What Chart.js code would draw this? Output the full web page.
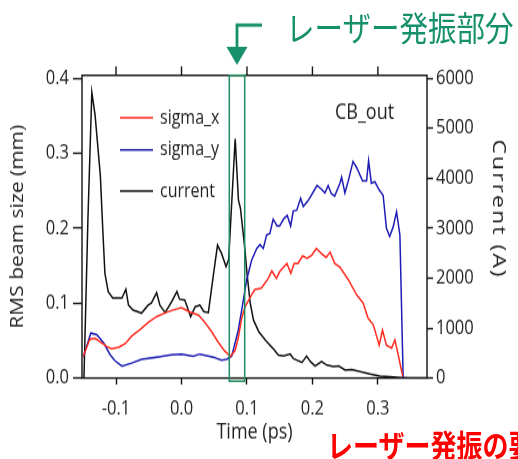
<!DOCTYPE html>
<html><head><meta charset="utf-8">
<script src="https://cdn.jsdelivr.net/npm/chart.js@4.4.1/dist/chart.umd.min.js"></script>
<style>
html,body{margin:0;padding:0;width:518px;height:459px;overflow:hidden;background:#fff;}
#stage{position:absolute;left:0;top:0;width:518px;height:382px;transform:scale(1,1.2016);transform-origin:0 0;overflow:hidden;}
#c{position:absolute;left:0;top:0;}
.jp{position:absolute;white-space:nowrap;font-family:"Noto Sans CJK JP",sans-serif;line-height:1;}
#g{left:286px;top:8px;font-size:28.5px;color:#15906a;}
#r{left:327px;top:356px;font-size:26px;color:#ff0000;font-weight:bold;}
</style></head>
<body>
<div id="stage">
<canvas id="c" width="518" height="382"></canvas>
<div class="jp" id="g">レーザー発振部分</div>
<div class="jp" id="r">レーザー発振の要</div>
</div>
<script>
// ---- data ----
const sigmaXTime = [-0.150,-0.140,-0.132,-0.124,-0.114,-0.107,-0.096,-0.086,-0.076,-0.063,-0.051,-0.038,-0.025,-0.0125,0.000,0.013,0.026,0.036,0.046,0.056,0.066,0.075,0.082,0.087,0.092,0.097,0.107,0.112,0.122,0.1325,0.138,0.145,0.150,0.161,0.167,0.172,0.178,0.185,0.192,0.199,0.206,0.214,0.221,0.227,0.234,0.242,0.255,0.2675,0.2775,0.285,0.293,0.302,0.307,0.313,0.321,0.326,0.331,0.338];
const sigmaX     = [0.029,0.052,0.053,0.048,0.042,0.039,0.041,0.046,0.056,0.065,0.074,0.082,0.087,0.091,0.094,0.088,0.084,0.074,0.062,0.048,0.036,0.029,0.037,0.055,0.080,0.095,0.111,0.118,0.120,0.133,0.143,0.133,0.142,0.153,0.140,0.153,0.153,0.163,0.160,0.164,0.173,0.166,0.161,0.168,0.153,0.148,0.131,0.111,0.100,0.080,0.071,0.044,0.064,0.044,0.040,0.051,0.031,0.002];

const sigmaYTime = [-0.150,-0.1386,-0.1295,-0.119,-0.109,-0.1015,-0.091,-0.076,-0.061,-0.038,-0.015,0.000,0.018,0.028,0.0485,0.061,0.069,0.0766,0.079,0.0867,0.092,0.0995,0.107,0.115,0.120,0.125,0.130,0.135,0.140,0.146,0.150,0.1565,0.1615,0.1667,0.1707,0.176,0.182,0.186,0.1936,0.201,0.207,0.214,0.219,0.224,0.229,0.234,0.242,0.2446,0.2496,0.2547,0.262,0.268,0.2766,0.2827,0.2858,0.290,0.2954,0.302,0.308,0.313,0.318,0.3234,0.3285,0.3336,0.3386];
const sigmaY     = [0.028,0.060,0.058,0.047,0.031,0.023,0.016,0.020,0.025,0.028,0.031,0.032,0.029,0.032,0.028,0.024,0.025,0.029,0.037,0.064,0.091,0.131,0.157,0.173,0.178,0.173,0.191,0.193,0.212,0.203,0.203,0.213,0.217,0.203,0.223,0.224,0.240,0.229,0.237,0.248,0.257,0.252,0.247,0.257,0.246,0.243,0.260,0.268,0.247,0.263,0.289,0.280,0.263,0.263,0.290,0.260,0.262,0.251,0.244,0.200,0.189,0.202,0.222,0.191,0.000];

const currentTime = [-0.149,-0.143,-0.137,-0.132,-0.124,-0.120,-0.117,-0.112,-0.105,-0.091,-0.085,-0.081,-0.074,-0.061,-0.051,-0.046,-0.038,-0.033,-0.025,-0.015,-0.007,-0.003,0.005,0.014,0.021,0.028,0.034,0.041,0.049,0.055,0.061,0.068,0.072,0.082,0.087,0.090,0.097,0.100,0.105,0.110,0.118,0.128,0.140,0.148,0.156,0.166,0.171,0.184,0.191,0.197,0.204,0.214,0.222,0.232,0.240,0.250,0.260,0.273,0.288,0.303,0.318,0.334,0.350,0.375];
const current     = [0,3160,5720,5260,4060,2900,2100,1730,1600,1600,1780,1460,1360,1300,1460,1500,1710,1460,1310,1530,1730,1580,1560,1230,1430,1460,1330,1310,2090,2660,2500,2230,2370,4790,3560,3400,2560,2100,1500,1160,930,760,590,460,440,480,390,310,440,330,240,330,260,230,240,160,170,130,80,40,25,10,0,0];

const xTicks  = [-0.1, 0.0, 0.1, 0.2, 0.3];
const yTicks  = [0.0, 0.1, 0.2, 0.3, 0.4];
const y1Ticks = [0, 1000, 2000, 3000, 4000, 5000, 6000];
const laserBand = [0.073, 0.0965];
const seriesNames = ['sigma_x', 'sigma_y', 'current'];

// ---- drawing ----
const FONT = "'Open Sans', 'DejaVu Sans', sans-serif";
const TXT = '#222';
const pts = (t, v) => t.map((x, i) => ({x: x, y: v[i]}));

const deco = {
  id: 'deco',
  afterDraw(chart) {
    const {ctx, chartArea: a, scales} = chart;
    const x = scales.x;
    ctx.save();
    // frame
    ctx.strokeStyle = '#111'; ctx.lineWidth = 1.4;
    ctx.strokeRect(a.left, a.top, a.right - a.left, a.bottom - a.top);
    // mirrored top ticks
    ctx.beginPath();
    xTicks.forEach(v => { const p = x.getPixelForValue(v); ctx.moveTo(p, a.top); ctx.lineTo(p, a.top - 7.5); });
    ctx.stroke();
    // laser band box
    const l = x.getPixelForValue(laserBand[0]), r = x.getPixelForValue(laserBand[1]);
    ctx.strokeStyle = '#1e8c5e'; ctx.lineWidth = 1.5;
    ctx.strokeRect(l, a.top, r - l, a.bottom + 2.6 - a.top);
    // arrow
    const c = (l + r) / 2;
    ctx.strokeStyle = '#15906a'; ctx.fillStyle = '#15906a'; ctx.lineWidth = 2.8;
    ctx.beginPath(); ctx.moveTo(262, 20.8); ctx.lineTo(c, 20.8); ctx.lineTo(c, 41); ctx.stroke();
    ctx.beginPath(); ctx.moveTo(c - 10.5, 39); ctx.lineTo(c + 10.5, 39); ctx.lineTo(c, 54); ctx.closePath(); ctx.fill();
    // legend
    const ly = [98, 124.8, 159];
    ctx.font = '16px ' + FONT; ctx.textBaseline = 'middle'; ctx.textAlign = 'left';
    chart.data.datasets.forEach((d, i) => {
      ctx.strokeStyle = d.borderColor; ctx.lineWidth = 1.6;
      ctx.beginPath(); ctx.moveTo(120, ly[i]); ctx.lineTo(153, ly[i]); ctx.stroke();
      ctx.fillStyle = TXT; ctx.fillText(d.label, 160, ly[i]);
    });
    // CB_out
    ctx.font = '18px ' + FONT; ctx.fillStyle = TXT;
    ctx.fillText('CB_out', 335, 94);
    // right axis title
    ctx.translate(497.5, 174);
    ctx.rotate(Math.PI / 2);
    ctx.font = '17.5px ' + FONT;
    ctx.letterSpacing = '1.5px';
    const t = 'Current (A)';
    const w = ctx.measureText(t).width;
    ctx.scale(Math.min(1.1, 124 / w), 1);
    ctx.textAlign = 'center';
    ctx.fillText(t, 0, 0);
    ctx.restore();
  }
};

new Chart(document.getElementById('c'), {
  type: 'line',
  data: {
    datasets: [
      {label: seriesNames[0], data: pts(sigmaXTime, sigmaX), borderColor: '#ff2a1f', yAxisID: 'y'},
      {label: seriesNames[1], data: pts(sigmaYTime, sigmaY), borderColor: '#1c1cb4', yAxisID: 'y'},
      {label: seriesNames[2], data: pts(currentTime, current), borderColor: '#111111', yAxisID: 'y1'}
    ]
  },
  options: {
    responsive: false,
    animation: false,
    layout: {padding: {top: 62.7, left: 0, right: 0, bottom: 0}},
    elements: {point: {radius: 0}, line: {borderWidth: 1.5, tension: 0, fill: false}},
    plugins: {legend: {display: false}, tooltip: {enabled: false}},
    scales: {
      x: {
        type: 'linear', position: 'bottom', min: -0.152, max: 0.375,
        afterFit(s) { s.height = 67.4; },
        afterBuildTicks(s) { s.ticks = xTicks.map(v => ({value: v})); },
        ticks: {callback: v => v.toFixed(1), font: {family: FONT, size: 16.5}, color: TXT, padding: 10, maxRotation: 0, autoSkip: false},
        grid: {drawOnChartArea: false, drawTicks: true, tickLength: 5.4, tickColor: '#111', tickWidth: 1.4},
        border: {display: false},
        title: {display: true, text: 'Time (ps)', font: {family: FONT, size: 18}, color: TXT, padding: {top: 0, bottom: 11}}
      },
      y: {
        position: 'left', min: 0, max: 0.404,
        afterFit(s) { s.width = 82; },
        afterBuildTicks(s) { s.ticks = yTicks.map(v => ({value: v})); },
        ticks: {callback: v => v.toFixed(1), font: {family: FONT, size: 16.5}, color: TXT, padding: 4},
        grid: {drawOnChartArea: false, drawTicks: true, tickLength: 9, tickColor: '#111', tickWidth: 1.4},
        border: {display: false},
        title: {display: true, text: 'RMS beam size (mm)', font: {family: FONT, size: 17.5}, color: TXT, padding: {top: 8, bottom: 0}}
      },
      y1: {
        position: 'right', min: 0, max: 6060,
        afterFit(s) { s.width = 91; },
        afterBuildTicks(s) { s.ticks = y1Ticks.map(v => ({value: v})); },
        ticks: {callback: v => String(v), font: {family: FONT, size: 16.5}, color: TXT, padding: 3},
        grid: {drawOnChartArea: false, drawTicks: true, tickLength: 6, tickColor: '#111', tickWidth: 1.4},
        border: {display: false}
      }
    }
  },
  plugins: [deco]
});
</script>
</body></html>
